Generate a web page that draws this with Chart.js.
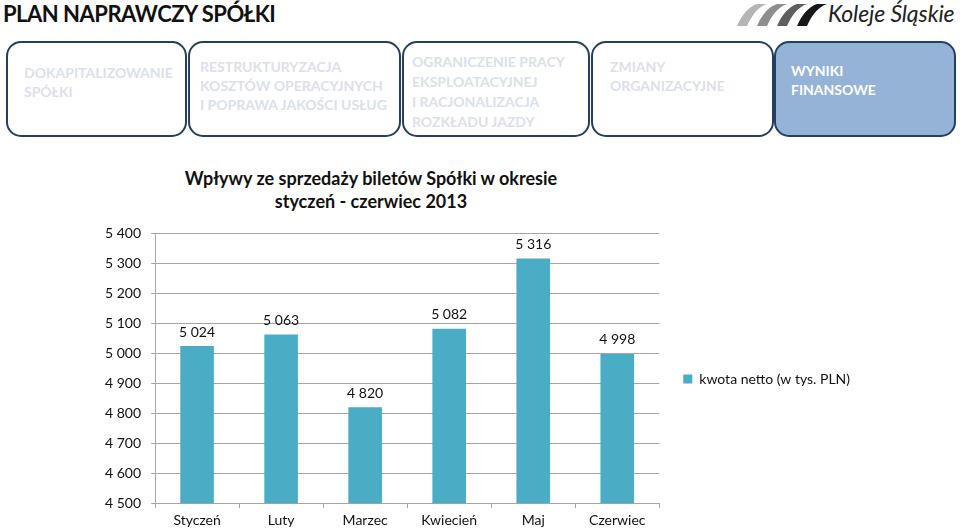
<!DOCTYPE html>
<html lang="pl">
<head>
<meta charset="utf-8">
<script src="https://cdn.jsdelivr.net/npm/chart.js@4/dist/chart.umd.min.js"></script>
<style>
  html, body { margin: 0; padding: 0; background: #fff; }
  body { width: 960px; height: 531px; position: relative; overflow: hidden; font-family: Lato, "Open Sans", sans-serif; }
  .naglowek { position: absolute; left: 3px; top: 0px; font-size: 22px; font-weight: 700; color: #111; letter-spacing: -0.5px; }
  .logo { position: absolute; left: 737px; top: 2px; }
  .logo-tekst { position: absolute; left: 828px; top: -1px; font-size: 23px; font-style: italic; color: #222; letter-spacing: -0.1px; }
  .box { position: absolute; top: 41px; border: 2px solid #243f63; border-radius: 15px; box-sizing: border-box; height: 96px;
         color: #dae1ec; font-size: 14px; font-weight: 700; line-height: 19px; }
  .box span { position: absolute; }
  .aktywny { background: #95b3d7; color: #fff; }
  .tytul { position: absolute; left: 171px; width: 400px; top: 167px; text-align: center; font-size: 18px; font-weight: 700; color: #111; line-height: 23px; }
  #wrap { position: absolute; left: 95px; top: 215px; width: 773px; height: 318px; }
</style>
</head>
<body>
<div class="naglowek">PLAN NAPRAWCZY SPÓŁKI</div>

<svg class="logo" width="92" height="26" viewBox="0 0 92 26">
  <path d="M0 24 L10 24 C15 13 21 5 30 2 L20 2 C11 5 5 13 0 24 Z" fill="#b5b5b5"/>
  <path d="M20 24 L30 24 C35 13 41 5 50 2 L40 2 C31 5 25 13 20 24 Z" fill="#8e8e8e"/>
  <path d="M40 24 L50 24 C55 13 61 5 70 2 L60 2 C51 5 45 13 40 24 Z" fill="#5f5f5f"/>
  <path d="M60 24 L70 24 C75 13 81 5 90 2 L80 2 C71 5 65 13 60 24 Z" fill="#171717"/>
</svg>
<div class="logo-tekst">Koleje Śląskie</div>

<div class="box" style="left:6px;width:181px;"><span style="left:16px;top:20px;">DOKAPITALIZOWANIE<br>SPÓŁKI</span></div>
<div class="box" style="left:188px;width:213px;"><span style="left:10px;top:14px;">RESTRUKTURYZACJA<br>KOSZTÓW OPERACYJNYCH<br>I POPRAWA JAKOŚCI USŁUG</span></div>
<div class="box" style="left:402px;width:188px;"><span style="left:8px;top:9px;line-height:20px;">OGRANICZENIE PRACY<br>EKSPLOATACYJNEJ<br>I RACJONALIZACJA<br>ROZKŁADU JAZDY</span></div>
<div class="box" style="left:591px;width:183px;"><span style="left:17px;top:14px;">ZMIANY<br>ORGANIZACYJNE</span></div>
<div class="box aktywny" style="left:774px;width:182px;"><span style="left:15px;top:18px;">WYNIKI<br>FINANSOWE</span></div>

<div class="tytul">Wpływy ze sprzedaży biletów Spółki w okresie<br>styczeń - czerwiec 2013</div>

<div id="wrap"><canvas id="wykres"></canvas></div>

<script>
const miesiace = ['Styczeń', 'Luty', 'Marzec', 'Kwiecień', 'Maj', 'Czerwiec'];
const kwotaNetto = [5024, 5063, 4820, 5082, 5316, 4998];
const osYMin = 4500;
const osYMax = 5400;
const osYKrok = 100;
const nazwaSerii = 'kwota netto (w tys. PLN)';

const formatuj = v => String(Math.round(v)).replace(/\B(?=(\d{3})+(?!\d))/g, ' ');

const etykietyWartosci = {
    id: 'etykietyWartosci',
    afterDatasetsDraw(chart) {
        const ctx = chart.ctx;
        const meta = chart.getDatasetMeta(0);
        ctx.save();
        ctx.font = '14px Lato';
        ctx.fillStyle = '#111';
        ctx.textAlign = 'center';
        ctx.textBaseline = 'bottom';
        meta.data.forEach((bar, i) => {
            ctx.fillText(formatuj(kwotaNetto[i]), bar.x, bar.y - 7);
        });
        ctx.restore();
    }
};

Chart.defaults.font.family = 'Lato';
Chart.defaults.font.size = 14;
Chart.defaults.color = '#111';

new Chart(document.getElementById('wykres'), {
    type: 'bar',
    data: {
        labels: miesiace,
        datasets: [{
            label: nazwaSerii,
            data: kwotaNetto,
            backgroundColor: '#4bacc6',
            barPercentage: 0.4,
            categoryPercentage: 1
        }]
    },
    options: {
        responsive: true,
        maintainAspectRatio: false,
        animation: false,
        layout: { padding: { top: 10, right: 8 } },
        plugins: {
            legend: {
                position: 'right',
                maxWidth: 300,
                labels: { boxWidth: 9, boxHeight: 9, padding: 24, font: { size: 14 } }
            },
            tooltip: { enabled: false }
        },
        scales: {
            y: {
                min: osYMin,
                max: osYMax,
                ticks: { stepSize: osYKrok, padding: 10, callback: v => formatuj(v) },
                grid: { color: '#a6a6a6', tickLength: 4 },
                border: { color: '#a6a6a6' }
            },
            x: {
                ticks: { padding: 4 },
                grid: { offset: true, drawOnChartArea: false, color: '#a6a6a6', tickLength: 5 },
                border: { color: '#a6a6a6' }
            }
        }
    },
    plugins: [etykietyWartosci]
});
</script>
</body>
</html>
